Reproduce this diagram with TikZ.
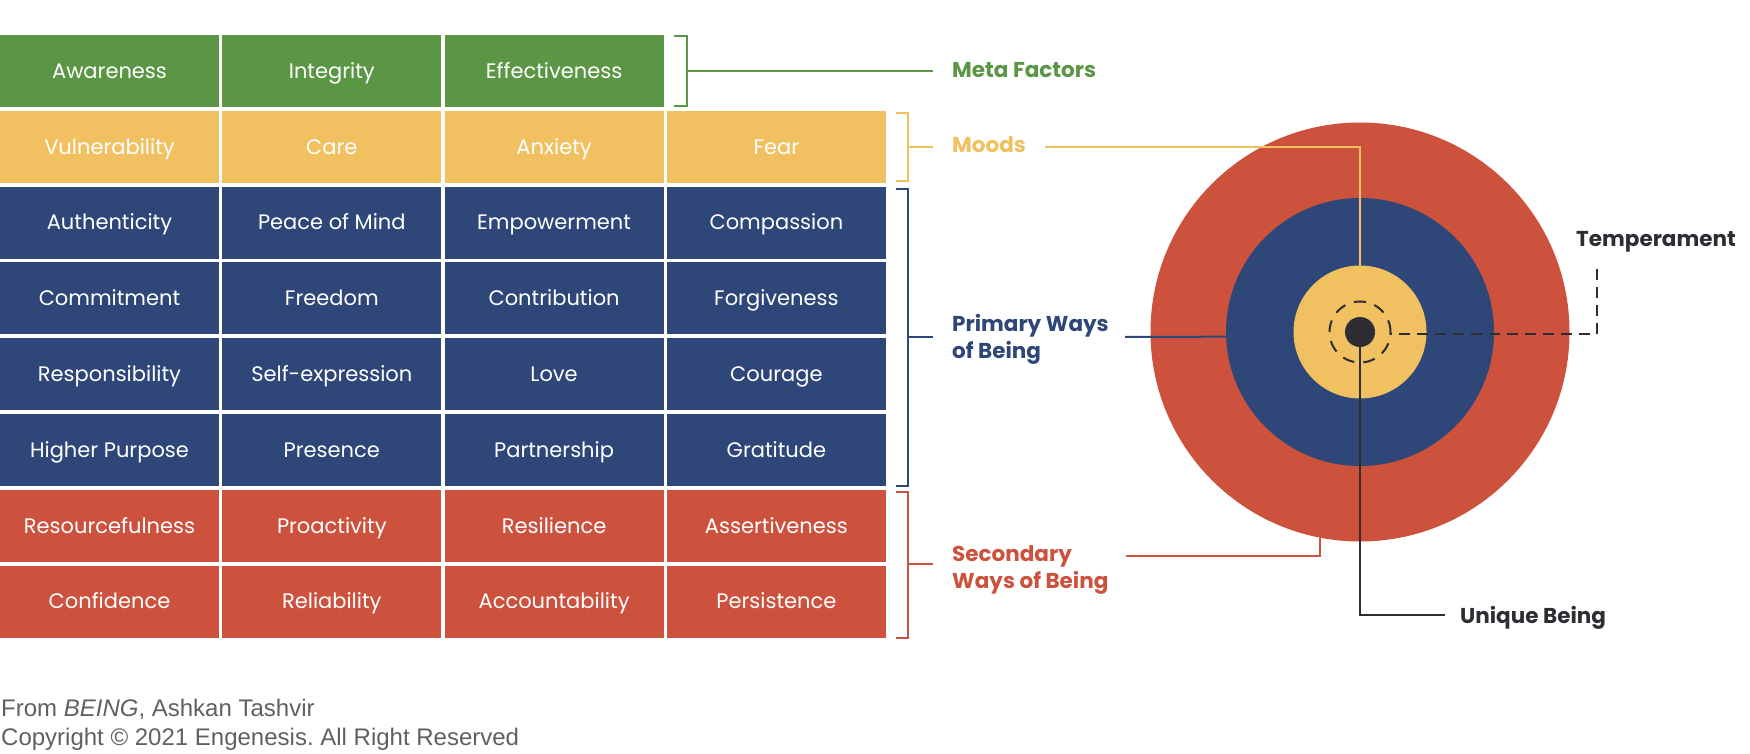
\documentclass[tikz,border=0pt]{standalone}
\usepackage{fontspec}
\setmainfont{Poppins}
\newfontfamily\footfont{Liberation Sans}
\frenchspacing
\definecolor{mgreen}{HTML}{5B9645}
\definecolor{myellow}{HTML}{F1C161}
\definecolor{mblue}{HTML}{2E4778}
\definecolor{mred}{HTML}{CC523E}
\definecolor{mdark}{HTML}{2D2D33}
\definecolor{mfoot}{HTML}{606060}
\begin{document}
\begin{tikzpicture}[x=1pt,y=-1pt,
  cell/.style={minimum width=219pt,minimum height=72pt,inner sep=0pt,text=white,
    font=\fontsize{21}{26}\selectfont,text height=15.5pt,text depth=1pt},
  lab/.style={anchor=base west,inner sep=0pt,font=\fontsize{21.5}{27}\selectfont\bfseries,align=left},
  brk/.style={line width=2pt},
  con/.style={line width=2pt},
  ring/.style={circle,inner sep=0pt,outer sep=0pt}]
\useasboundingbox (0,0) rectangle (1750,754);

% grid
\foreach \t [count=\j] in {Awareness,Integrity,Effectiveness}
  \node[cell,fill=mgreen] (r1c\j) at ({109.5+222.3*(\j-1)},71) {\t};
\foreach \t [count=\j] in {Vulnerability,Care,Anxiety,Fear}
  \node[cell,fill=myellow] (r2c\j) at ({109.5+222.3*(\j-1)},146.8) {\t};
\foreach \t [count=\j] in {Authenticity,Peace of Mind,Empowerment,Compassion}
  \node[cell,fill=mblue] (r3c\j) at ({109.5+222.3*(\j-1)},222.6) {\t};
\foreach \t [count=\j] in {Commitment,Freedom,Contribution,Forgiveness}
  \node[cell,fill=mblue] (r4c\j) at ({109.5+222.3*(\j-1)},298.4) {\t};
\foreach \t [count=\j] in {Responsibility,Self-expression,Love,Courage}
  \node[cell,fill=mblue] (r5c\j) at ({109.5+222.3*(\j-1)},374.2) {\t};
\foreach \t [count=\j] in {Higher Purpose,Presence,Partnership,Gratitude}
  \node[cell,fill=mblue] (r6c\j) at ({109.5+222.3*(\j-1)},450) {\t};
\foreach \t [count=\j] in {Resourcefulness,Proactivity,Resilience,Assertiveness}
  \node[cell,fill=mred] (r7c\j) at ({109.5+222.3*(\j-1)},525.8) {\t};
\foreach \t [count=\j] in {Confidence,Reliability,Accountability,Persistence}
  \node[cell,fill=mred] (r8c\j) at ({109.5+222.3*(\j-1)},601.6) {\t};

% brackets
\draw[brk,mgreen] (674,36) -- (687,36) -- (687,106) -- (674,106);
\draw[brk,mgreen] (687,71) -- (933,71);
\draw[brk,myellow] (896,113) -- (908,113) -- (908,181) -- (896,181);
\draw[brk,myellow] (908,147) -- (933,147);
\draw[brk,mblue] (896,189) -- (908,189) -- (908,486) -- (896,486);
\draw[brk,mblue] (908,337) -- (933,337);
\draw[brk,mred] (896,492) -- (908,492) -- (908,638) -- (896,638);
\draw[brk,mred] (908,564) -- (933,564);

% labels
\node[lab,text=mgreen] (meta) at (952,77.7) {Meta Factors};
\node[lab,text=myellow] (moods) at (952,153) {Moods};
\node[lab,text=mblue] (prim) at (952,358) {Primary Ways\\of Being};
\node[lab,text=mred] (sec) at (952,588) {Secondary\\Ways of Being};
\node[lab,text=mdark] (temp) at (1576,246) {Temperament};
\node[lab,text=mdark] (uniq) at (1460,623) {Unique Being};

% circles
\node[ring,fill=mred,minimum size=419pt] (ring3) at (1360,332) {};
\node[ring,fill=mblue,minimum size=268pt] (ring2) at (1360,332) {};
\node[ring,fill=myellow,minimum size=133pt] (ring1) at (1360,332) {};
\node[ring,draw=mdark,line width=2pt,dash pattern=on 12pt off 9pt,minimum size=61pt] (temper) at (1360,332) {};

% connectors
\coordinate (moodsL) at (1045,147);
\coordinate (primL) at (1125,337);
\coordinate (secL) at (1125.5,556);
\coordinate (uniqL) at (1445,615);
\coordinate (tempL) at (1597,269);
\draw[con,myellow] (moodsL) -| (ring1.north);
\draw[con,mblue] (primL) -- (ring2.182.1);
\draw[con,mred] (secL) -| (ring3.259.3);
\draw[con,mdark,dash pattern=on 11pt off 7pt] (tempL) |- (temper.-4.3);
\node[ring,fill=mdark,minimum size=30pt] (core) at (1360,332) {};
\draw[con,mdark] (core.south) |- (uniqL);

% footer
\node[anchor=base west,inner sep=0pt,align=left,text=mfoot,
  font=\footfont\fontsize{24}{29}\selectfont] (foot) at (1,745)
  {From \textit{BEING}, Ashkan Tashvir\\Copyright © 2021 Engenesis. All Right Reserved};
\end{tikzpicture}
\end{document}
